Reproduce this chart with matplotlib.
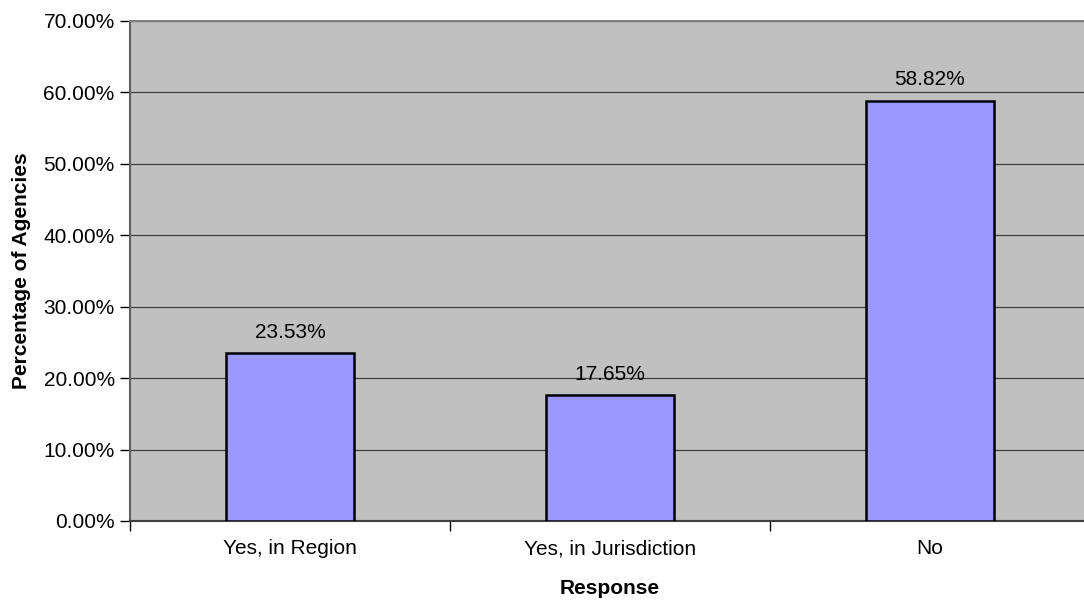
import matplotlib
matplotlib.use("Agg")
import matplotlib.pyplot as plt
from matplotlib.ticker import FuncFormatter, FixedLocator

categories = ["Yes, in Region", "Yes, in Jurisdiction", "No"]
values = [23.53, 17.65, 58.82]
y_ticks = [0, 10, 20, 30, 40, 50, 60, 70]

plt.rcParams['font.family'] = ['Liberation Sans', 'DejaVu Sans']

FS = 15
W, H = 1084, 602
fig = plt.figure(figsize=(W/100, H/100), dpi=100)
left, right, top, bottom = 130, 1090, 21, 521
ax = fig.add_axes([left/W, (H-bottom)/H, (right-left)/W, (bottom-top)/H])
ax.set_facecolor("#C0C0C0")

x = list(range(len(categories)))
ax.bar(x, values, width=0.4, color="#9999FF", edgecolor="black", linewidth=1.8, zorder=3)
for xi, v in zip(x, values):
    ax.text(xi, v + 1.6, f"{v:.2f}%", ha="center", va="bottom", fontsize=FS, color="black", zorder=4)

ax.set_xlim(-0.5, len(categories) - 0.5)
ax.set_ylim(0, 70)
ax.set_yticks(y_ticks)
ax.yaxis.set_major_formatter(FuncFormatter(lambda v, p: f"{v:.2f}%"))
ax.yaxis.grid(True, color="#404040", linewidth=0.9, zorder=1)
ax.set_axisbelow(True)

ax.set_xticks(x)
ax.set_xticklabels(categories, fontsize=FS)
ax.tick_params(axis="x", length=0, pad=13)
ax.xaxis.set_minor_locator(FixedLocator([-0.5, 0.5, 1.5, 2.5]))
ax.tick_params(axis="x", which="minor", length=7, width=1, color="black")
ax.tick_params(axis="y", length=7, width=1, labelsize=FS, pad=4)

ax.spines["top"].set_color("#808080")
ax.spines["top"].set_linewidth(1.5)
ax.spines["right"].set_visible(False)
ax.spines["left"].set_color("#606060")
ax.spines["left"].set_linewidth(1.5)
ax.spines["bottom"].set_color("#404040")
ax.spines["bottom"].set_linewidth(1.5)

ax.set_ylabel("Percentage of Agencies", fontsize=FS, fontweight="bold", labelpad=9)
ax.set_xlabel("Response", fontsize=FS, fontweight="bold", labelpad=15)

fig.savefig("out.png", dpi=100)
